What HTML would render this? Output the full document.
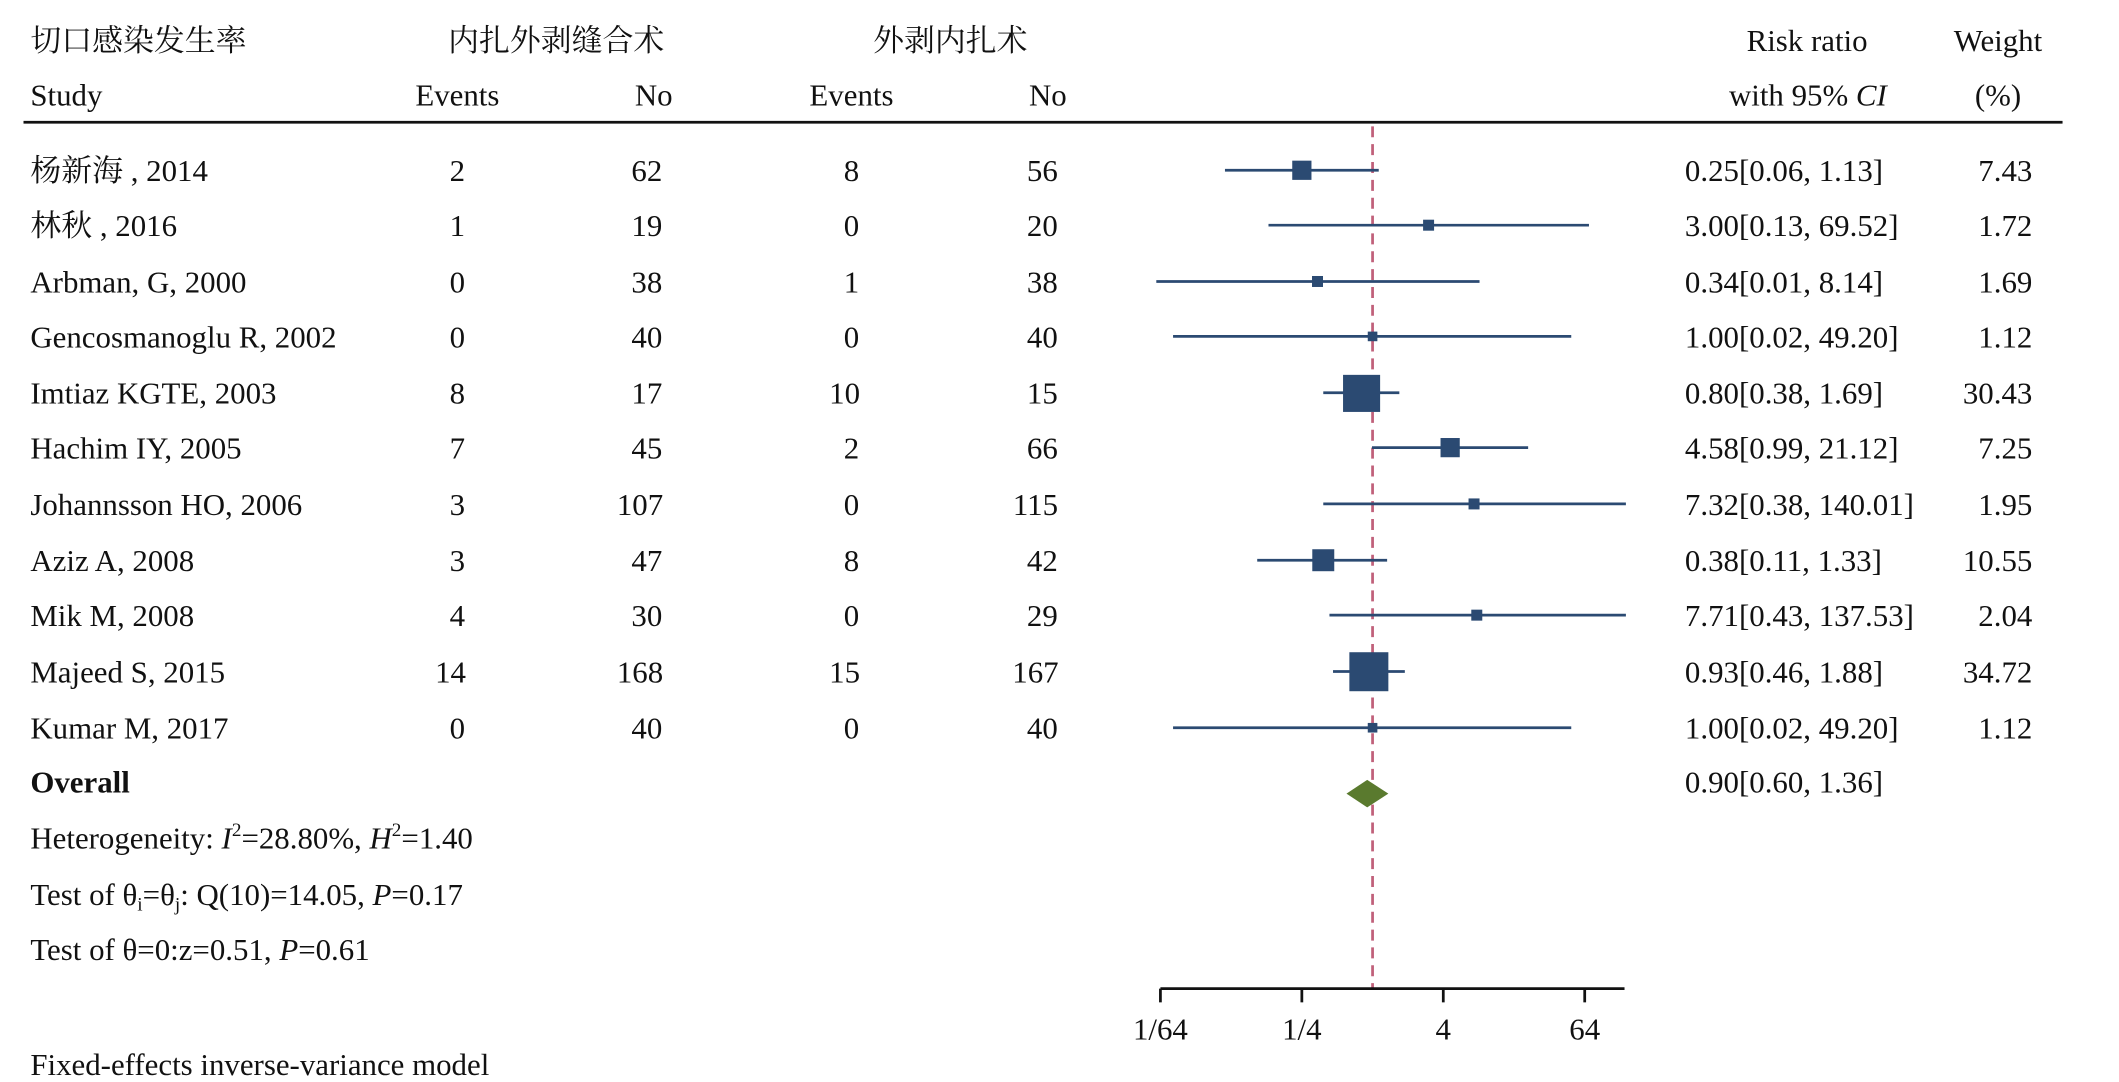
<!DOCTYPE html>
<html><head><meta charset="utf-8"><style>
html,body{margin:0;padding:0;background:#fff;}
svg{display:block;}
text{font-family:"Liberation Serif","Noto Serif CJK SC","Noto Sans CJK SC",serif;font-size:22.5px;fill:#111;}
.c{text-anchor:middle}
.e{text-anchor:end}
</style></head><body>
<svg width="2119" height="1082" viewBox="0 0 1543 788" xmlns="http://www.w3.org/2000/svg">
<rect width="1543" height="788" fill="#fff"/>
<text x="22" y="37">切口感染发生率</text>
<text x="405" y="37" class="c">内扎外剥缝合术</text>
<text x="692" y="37" class="c">外剥内扎术</text>
<text x="1360" y="37" class="e">Risk ratio</text>
<text x="1455" y="37" class="c">Weight</text>
<text x="22" y="77">Study</text>
<text x="333" y="77" class="c">Events</text>
<text x="476" y="77" class="c">No</text>
<text x="620" y="77" class="c">Events</text>
<text x="763" y="77" class="c">No</text>
<text x="1374" y="77" class="e">with 95% <tspan font-style="italic">CI</tspan></text>
<text x="1455" y="77" class="c">(%)</text>
<line x1="17" y1="89" x2="1502" y2="89" stroke="#111" stroke-width="2"/>
<line x1="999.5" y1="92" x2="999.5" y2="720" stroke="#c0607a" stroke-width="2" stroke-dasharray="8,5"/>

<g>
<text x="22" y="132">杨新海 , 2014</text><text x="333" y="132" class="c">2</text><text x="471" y="132" class="c">62</text><text x="620" y="132" class="c">8</text><text x="759" y="132" class="c">56</text><text x="1227" y="132">0.25[0.06, 1.13]</text><text x="1480" y="132" class="e">7.43</text>
<text x="22" y="172">林秋 , 2016</text><text x="333" y="172" class="c">1</text><text x="471" y="172" class="c">19</text><text x="620" y="172" class="c">0</text><text x="759" y="172" class="c">20</text><text x="1227" y="172">3.00[0.13, 69.52]</text><text x="1480" y="172" class="e">1.72</text>
<text x="22" y="213">Arbman, G, 2000</text><text x="333" y="213" class="c">0</text><text x="471" y="213" class="c">38</text><text x="620" y="213" class="c">1</text><text x="759" y="213" class="c">38</text><text x="1227" y="213">0.34[0.01, 8.14]</text><text x="1480" y="213" class="e">1.69</text>
<text x="22" y="253">Gencosmanoglu R, 2002</text><text x="333" y="253" class="c">0</text><text x="471" y="253" class="c">40</text><text x="620" y="253" class="c">0</text><text x="759" y="253" class="c">40</text><text x="1227" y="253">1.00[0.02, 49.20]</text><text x="1480" y="253" class="e">1.12</text>
<text x="22" y="294">Imtiaz KGTE, 2003</text><text x="333" y="294" class="c">8</text><text x="471" y="294" class="c">17</text><text x="615" y="294" class="c">10</text><text x="759" y="294" class="c">15</text><text x="1227" y="294">0.80[0.38, 1.69]</text><text x="1480" y="294" class="e">30.43</text>
<text x="22" y="334">Hachim IY, 2005</text><text x="333" y="334" class="c">7</text><text x="471" y="334" class="c">45</text><text x="620" y="334" class="c">2</text><text x="759" y="334" class="c">66</text><text x="1227" y="334">4.58[0.99, 21.12]</text><text x="1480" y="334" class="e">7.25</text>
<text x="22" y="375">Johannsson HO, 2006</text><text x="333" y="375" class="c">3</text><text x="466" y="375" class="c">107</text><text x="620" y="375" class="c">0</text><text x="754" y="375" class="c">115</text><text x="1227" y="375">7.32[0.38, 140.01]</text><text x="1480" y="375" class="e">1.95</text>
<text x="22" y="416">Aziz A, 2008</text><text x="333" y="416" class="c">3</text><text x="471" y="416" class="c">47</text><text x="620" y="416" class="c">8</text><text x="759" y="416" class="c">42</text><text x="1227" y="416">0.38[0.11, 1.33]</text><text x="1480" y="416" class="e">10.55</text>
<text x="22" y="456">Mik M, 2008</text><text x="333" y="456" class="c">4</text><text x="471" y="456" class="c">30</text><text x="620" y="456" class="c">0</text><text x="759" y="456" class="c">29</text><text x="1227" y="456">7.71[0.43, 137.53]</text><text x="1480" y="456" class="e">2.04</text>
<text x="22" y="497">Majeed S, 2015</text><text x="328" y="497" class="c">14</text><text x="466" y="497" class="c">168</text><text x="615" y="497" class="c">15</text><text x="754" y="497" class="c">167</text><text x="1227" y="497">0.93[0.46, 1.88]</text><text x="1480" y="497" class="e">34.72</text>
<text x="22" y="538">Kumar M, 2017</text><text x="333" y="538" class="c">0</text><text x="471" y="538" class="c">40</text><text x="620" y="538" class="c">0</text><text x="759" y="538" class="c">40</text><text x="1227" y="538">1.00[0.02, 49.20]</text><text x="1480" y="538" class="e">1.12</text>
</g>

<g stroke="#2b4a72" stroke-width="2">
<line x1="892" y1="124" x2="1004" y2="124"/>
<line x1="923.7" y1="164" x2="1157.1" y2="164"/>
<line x1="842" y1="205" x2="1077.4" y2="205"/>
<line x1="854.2" y1="245" x2="1144.2" y2="245"/>
<line x1="963.6" y1="286" x2="1019" y2="286"/>
<line x1="999.1" y1="326" x2="1112.8" y2="326"/>
<line x1="963.6" y1="367" x2="1184" y2="367"/>
<line x1="915.5" y1="408" x2="1010.1" y2="408"/>
<line x1="968.1" y1="448" x2="1184" y2="448"/>
<line x1="970.7" y1="489" x2="1023" y2="489"/>
<line x1="854.2" y1="530" x2="1144.2" y2="530"/>
</g>
<g fill="#2b4a72">
<rect x="941" y="117" width="14" height="14"/>
<rect x="1036.3" y="160" width="8" height="8"/>
<rect x="955.4" y="201" width="8" height="8"/>
<rect x="996" y="241.5" width="7" height="7"/>
<rect x="978" y="273" width="27" height="27"/>
<rect x="1049" y="319" width="14" height="14"/>
<rect x="1069.4" y="363" width="8" height="8"/>
<rect x="955.6" y="400" width="16" height="16"/>
<rect x="1071.4" y="444" width="8" height="8"/>
<rect x="982.6" y="475" width="28.4" height="28.4"/>
<rect x="996" y="526.5" width="7" height="7"/>
</g>

<text x="22" y="577" font-weight="bold">Overall</text>
<text x="1227" y="577">0.90[0.60, 1.36]</text>
<polygon points="980.5,578 995.6,568 1011,578 995.6,588" fill="#5a7a2e"/>
<text x="22" y="618">Heterogeneity: <tspan font-style="italic">I</tspan><tspan font-size="14" dy="-9">2</tspan><tspan dy="9">=28.80%, </tspan><tspan font-style="italic">H</tspan><tspan font-size="14" dy="-9">2</tspan><tspan dy="9">=1.40</tspan></text>
<text x="22" y="659">Test of θ<tspan font-size="14" dy="4">i</tspan><tspan dy="-4">=θ</tspan><tspan font-size="14" dy="4">j</tspan><tspan dy="-4">: Q(10)=14.05, </tspan><tspan font-style="italic">P</tspan>=0.17</text>
<text x="22" y="699">Test of θ=0:z=0.51, <tspan font-style="italic">P</tspan>=0.61</text>
<text x="22" y="783">Fixed-effects inverse-variance model</text>
<line x1="845" y1="720" x2="1183" y2="720" stroke="#111" stroke-width="2"/>
<g stroke="#111" stroke-width="2">
<line x1="845" y1="720" x2="845" y2="730"/><line x1="948" y1="720" x2="948" y2="730"/>
<line x1="1051" y1="720" x2="1051" y2="730"/><line x1="1154" y1="720" x2="1154" y2="730"/>
</g>
<text x="845" y="757" class="c">1/64</text>
<text x="948" y="757" class="c">1/4</text>
<text x="1051" y="757" class="c">4</text>
<text x="1154" y="757" class="c">64</text>
</svg>
</body></html>
